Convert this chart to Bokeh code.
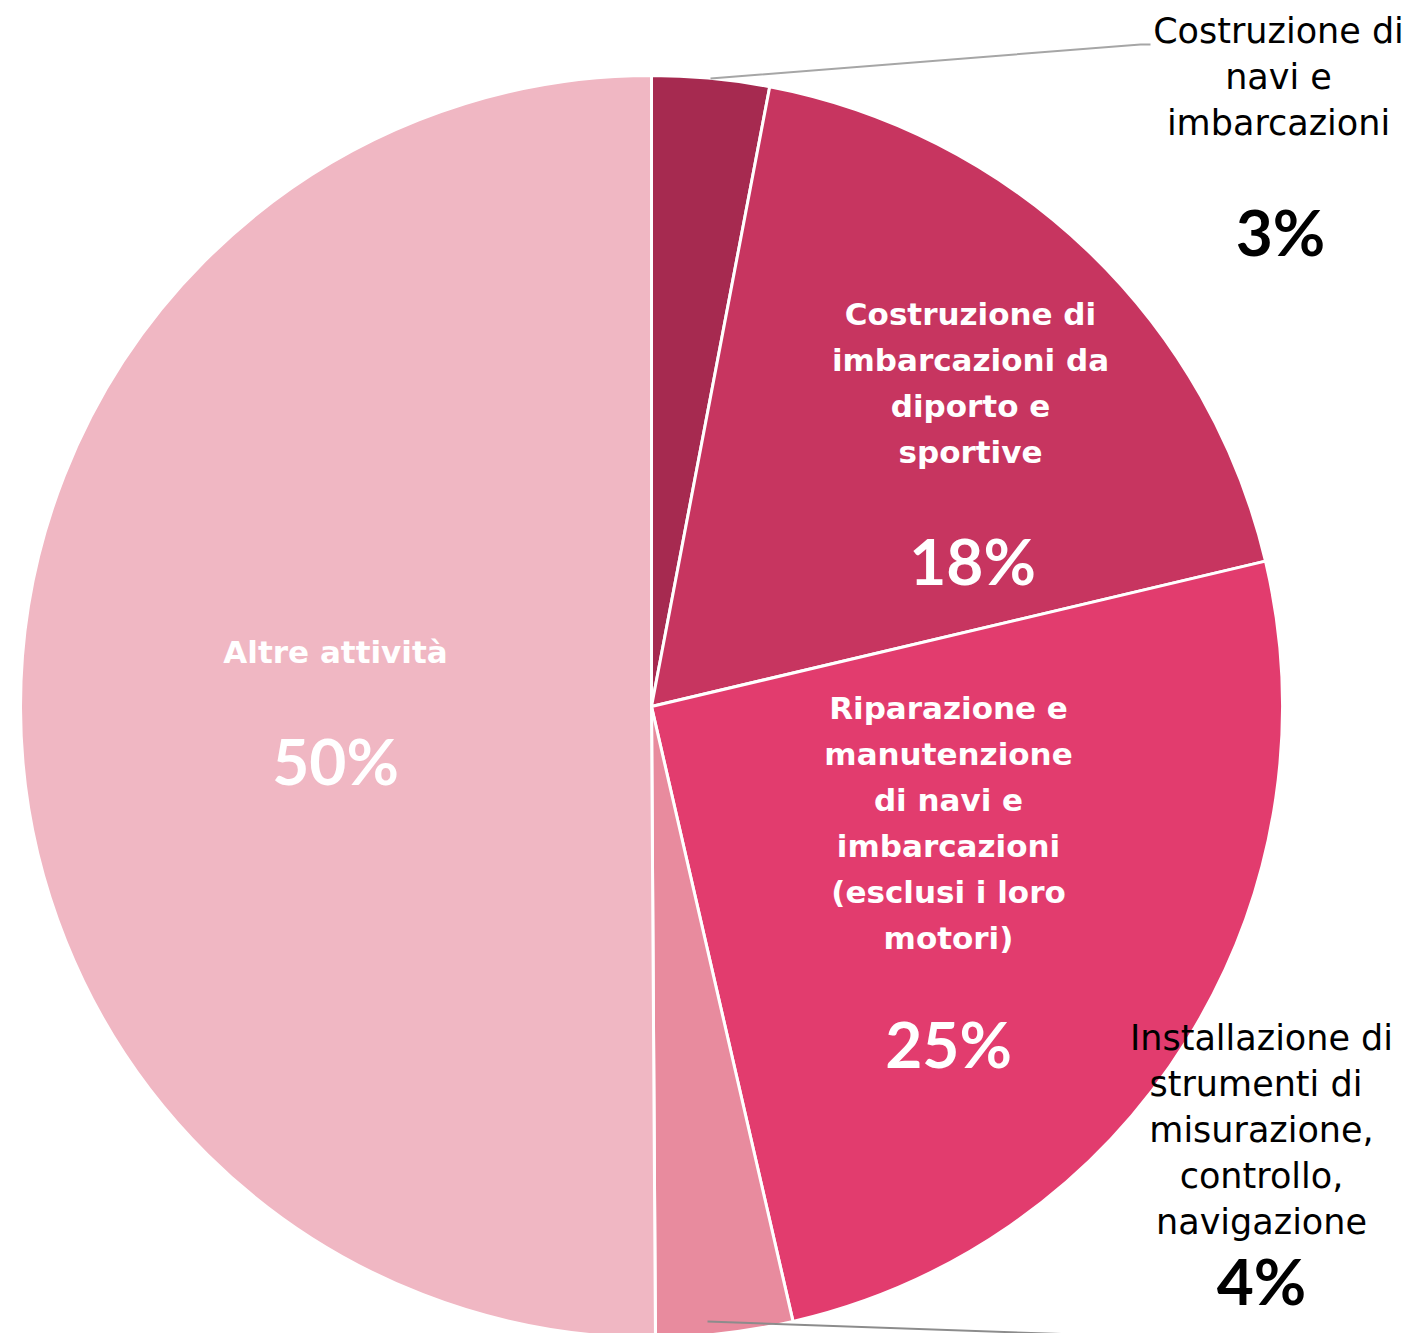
import math
from bokeh.plotting import figure
from bokeh.models import Range1d, ColumnDataSource
from bokeh.core.properties import value
from bokeh.embed import file_html
from bokeh.resources import INLINE

# ---- data ----
categories = [
    "Costruzione di navi e imbarcazioni",
    "Costruzione di imbarcazioni da diporto e sportive",
    "Riparazione e manutenzione di navi e imbarcazioni (esclusi i loro motori)",
    "Installazione di strumenti di misurazione, controllo, navigazione",
    "Altre attività",
]
shares = [3.0, 18.3, 25.1, 3.5, 50.1]
colors = ["#A62A50", "#C73560", "#E23C6E", "#E88B9E", "#F0B7C3"]
label_lines = [
    ["Costruzione di", "navi e", "imbarcazioni"],
    ["Costruzione di", "imbarcazioni da", "diporto e", "sportive"],
    ["Riparazione e", "manutenzione", "di navi e", "imbarcazioni", "(esclusi i loro", "motori)"],
    ["Installazione di", "strumenti  di", "misurazione,", "controllo,", "navigazione"],
    ["Altre attività"],
]
pct_labels = [f"{round(v)}%" for v in shares]

# ---- layout (pixels; data units == pixels, origin at pie centre) ----
W, H = 1415, 1333
CX, CY = 651, 706          # page position of the pie centre
R = 631
x0 = -CX
y_top = CY
p = figure(width=W, height=H, output_backend="svg", toolbar_location=None,
           x_range=Range1d(x0, x0 + W), y_range=Range1d(y_top - H, y_top),
           min_border=0)
p.axis.visible = False
p.grid.visible = False
p.outline_line_color = None
p.background_fill_color = "white"
p.border_fill_color = "white"

total = sum(shares)
cum = [0.0]
for v in shares:
    cum.append(cum[-1] + v)
starts = [math.pi / 2 - 2 * math.pi * cum[i + 1] / total for i in range(len(shares))]
ends = [math.pi / 2 - 2 * math.pi * cum[i] / total for i in range(len(shares))]
src = ColumnDataSource(dict(cat=categories, start=starts, end=ends, color=colors))
p.wedge(x=0, y=0, radius=R, start_angle="start", end_angle="end", direction="anticlock",
        fill_color="color", line_color="white", line_width=3, source=src)

# label placement (page coordinates of first line centre), in slice order
label_pos = [(1278, 30), (970, 313), (948, 707), (1261, 1037), (335, 651)]
pct_pos = [(1280, 231), (972, 560), (948, 1043), (1261, 1280), (335, 760)]
inside = [False, True, True, False, True]
LINE = 46

for i in range(len(shares)):
    lx, ly = label_pos[i]
    col = "white" if inside[i] else "black"
    style = "bold" if inside[i] else "normal"
    size = "31px" if inside[i] else "35px"
    xs = [lx - CX] * len(label_lines[i])
    ys = [CY - (ly + k * LINE) for k in range(len(label_lines[i]))]
    p.text(x=xs, y=ys, text=label_lines[i], text_align="center", text_baseline="middle",
           text_color=col, text_font=value("DejaVu Sans"), text_font_style=style,
           text_font_size=size)
    px, py = pct_pos[i]
    p.text(x=[px - CX], y=[CY - py], text=[pct_labels[i]], text_align="center",
           text_baseline="middle", text_color=col, text_font=value("Lato"),
           text_font_style="bold", text_font_size="64px")

# leader lines for outside labels
p.line(x=[710 - CX, 1140 - CX, 1150 - CX], y=[CY - 78, CY - 44, CY - 44],
       line_color="#A6A6A6", line_width=2)
p.line(x=[707 - CX, 1075 - CX], y=[CY - 1321, CY - 1334],
       line_color="#8C8C8C", line_width=2)

open("out.html", "w").write(file_html(p, INLINE))
